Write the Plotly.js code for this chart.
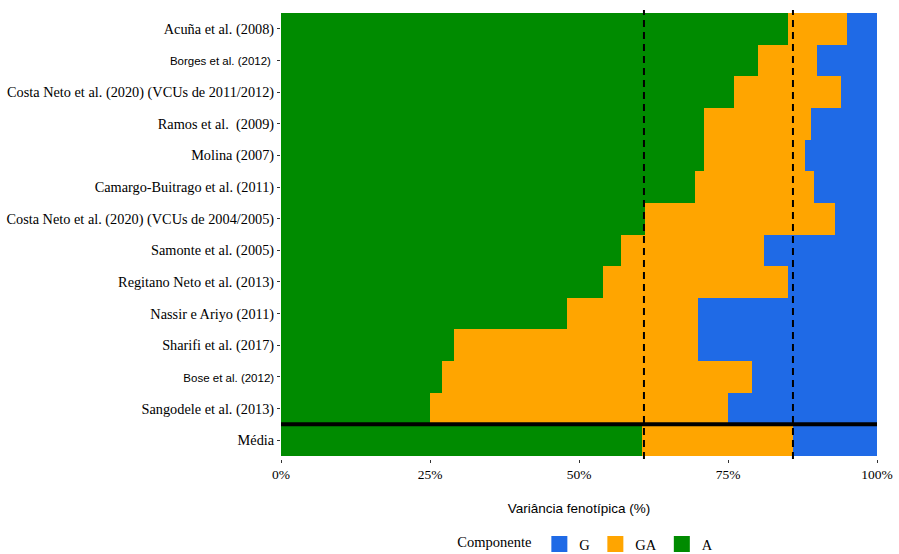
<!DOCTYPE html>
<html>
<head>
<meta charset="utf-8">
<script src="https://cdn.plot.ly/plotly-3.0.1.min.js"></script>
<style>html,body{margin:0;padding:0;background:#fff;}#chart{width:899px;height:554px;}</style>
</head>
<body>
<div id="chart"></div>
<script>
// Categories, top to bottom
var categories = [
  "Acuña et al. (2008)",
  "Borges et al. (2012) ",
  "Costa Neto et al. (2020) (VCUs de 2011/2012)",
  "Ramos et al.  (2009)",
  "Molina (2007)",
  "Camargo-Buitrago et al. (2011)",
  "Costa Neto et al. (2020) (VCUs de 2004/2005)",
  "Samonte et al. (2005)",
  "Regitano Neto et al. (2013)",
  "Nassir e Ariyo (2011)",
  "Sharifi et al. (2017)",
  "Bose et al. (2012)",
  "Sangodele et al. (2013)",
  "Média"
];
// Variance components (%)
var valuesA  = [85, 80, 76, 71, 71, 69.5, 61, 57, 54, 48, 29, 27, 25, 60.6];
var valuesGA = [10, 10, 18, 18, 17, 20, 32, 24, 31, 22, 41, 52, 50, 25.3];
var valuesG  = [5, 10, 6, 11, 12, 10.5, 7, 19, 15, 30, 30, 21, 25, 14.1];
// Mean reference lines (%)
var meanLines = [60.9, 85.9];
// Labels drawn in a sans font in the original
var sansLabels = ["Borges et al. (2012) ", "Bose et al. (2012)"];
var xTicks = [0, 25, 50, 75, 100];
var components = ["A", "GA", "G"];
var colors = ["#008B00", "#FFA500", "#1F6AE6"];

var serif = "Liberation Serif, Times New Roman, serif";
var sans = "Liberation Sans, Arial, sans-serif";

var tickText = categories.map(function(c){
  if (sansLabels.indexOf(c) >= 0) {
    return "<span style='font-family:Liberation Sans;font-size:11.5px'>" + c + "</span>";
  }
  return c;
});

var seriesValues = [valuesA, valuesGA, valuesG];
var traces = components.map(function(name, i){
  return {name: name, x: seriesValues[i], y: categories, type: "bar", orientation: "h",
          marker: {color: colors[i], line: {width: 0}}, showlegend: false};
});
// legend entries (square keys)
components.forEach(function(name, i){
  traces.push({name: name, x: [null], y: [null], type: "scatter", mode: "markers",
               marker: {symbol: "square", size: 16, color: colors[i]}, showlegend: true});
});

var shapes = meanLines.map(function(v){
  return {type: "line", xref: "x", yref: "paper", x0: v, x1: v, y0: 0, y1: 1,
          line: {color: "#000", width: 2, dash: "7px,5px"}};
});
shapes.push({type: "line", xref: "paper", yref: "y", x0: 0, x1: 1,
             y0: categories.length - 1.5, y1: categories.length - 1.5,
             line: {color: "#000", width: 4}});

var layout = {
  width: 899, height: 554,
  margin: {l: 281, r: 22, t: 10, b: 95, pad: 0, autoexpand: false},
  paper_bgcolor: "#fff", plot_bgcolor: "#fff",
  barmode: "stack", bargap: 0,
  showlegend: true,
  font: {family: serif, color: "#000", size: 13},
  xaxis: {
    range: [0, 100], tickvals: xTicks, ticktext: xTicks.map(function(v){return v + "%";}),
    ticks: "outside", ticklen: 3, tickcolor: "#333", tickwidth: 1,
    showgrid: false, zeroline: false, showline: false,
    tickfont: {family: serif, size: 13.5, color: "#000"},
    title: {text: "Variância fenotípica (%)", font: {family: sans, size: 13.5, color: "#000"}, standoff: 22}
  },
  yaxis: {
    type: "category", categoryorder: "array", categoryarray: categories,
    range: [categories.length - 1 + 0.595, -0.595],
    tickvals: categories, ticktext: tickText,
    ticks: "outside", ticklen: 3, tickcolor: "#333", tickwidth: 1,
    showgrid: false, zeroline: false, showline: false,
    tickfont: {family: serif, size: 14.3, color: "#000"}
  },
  legend: {
    orientation: "h", traceorder: "reversed",
    x: 0.513, xanchor: "center", y: 0.018, yref: "container", yanchor: "middle",
    font: {family: serif, size: 14.5, color: "#000"},
    title: {text: "Componente", side: "left", font: {family: serif, size: 14.5, color: "#000"}},
    itemwidth: 30, tracegroupgap: 0, itemsizing: "trace"
  },
  shapes: shapes
};

Plotly.newPlot("chart", traces, layout, {displayModeBar: false, staticPlot: true});
</script>
</body>
</html>
